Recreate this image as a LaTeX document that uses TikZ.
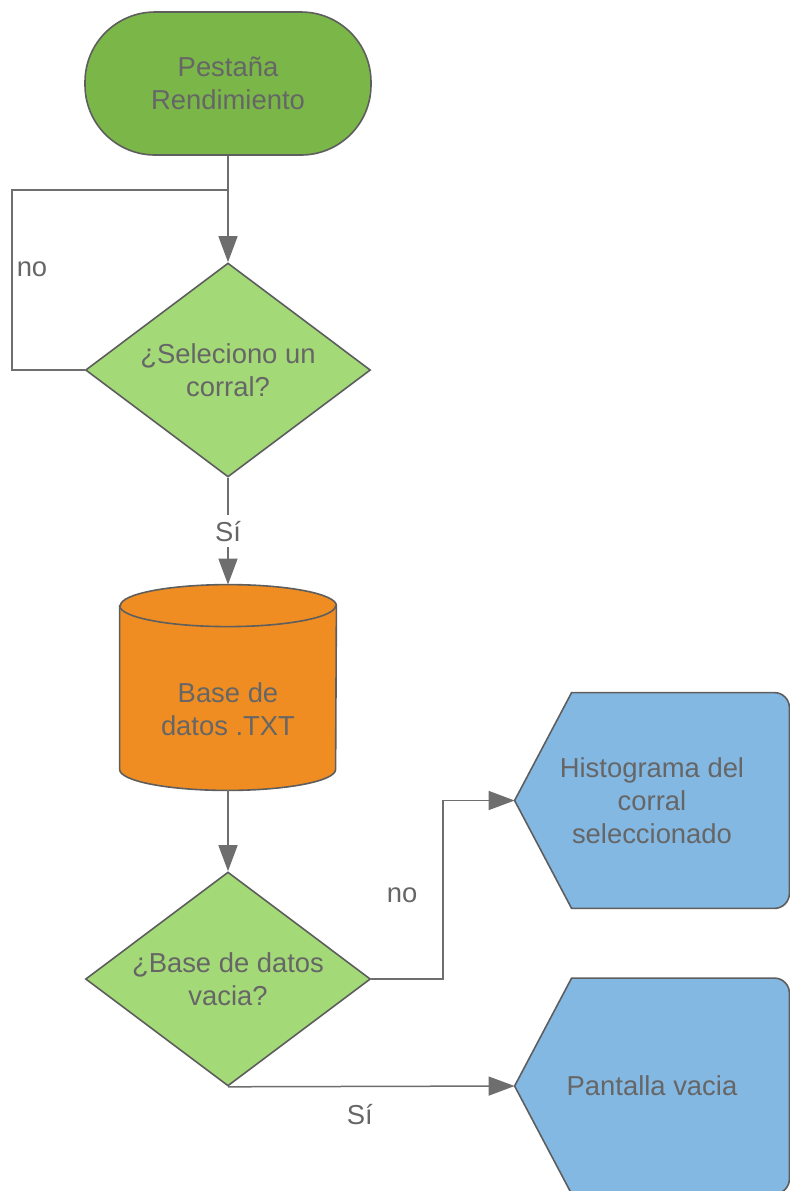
\documentclass[tikz,border=0pt]{standalone}
\usepackage{fontspec}
\setmainfont{Liberation Sans}
\usetikzlibrary{arrows.meta,calc,shapes.geometric}
\definecolor{startgreen}{HTML}{7AB648}
\definecolor{askgreen}{HTML}{A3D977}
\definecolor{dborange}{HTML}{EF8D22}
\definecolor{screenblue}{HTML}{83B8E3}
\definecolor{inkgray}{HTML}{5E5E5E}
\definecolor{textgray}{HTML}{666666}
\definecolor{wiregray}{HTML}{6E6E6E}

\begin{document}
\begin{tikzpicture}[x=0.5pt,y=-0.5pt,>={Triangle[length=13pt,width=9.5pt]},
    font=\fontsize{13.7pt}{16.5pt}\selectfont,
    outline/.style={draw=inkgray,line width=0.8pt},
    terminal/.style={outline,fill=startgreen,rounded corners=35pt,
      minimum width=143pt,minimum height=71.5pt,align=center,text=textgray},
    decision/.style={outline,diamond,fill=askgreen,
      minimum width=142.5pt,minimum height=107pt,inner sep=0pt},
    database/.style={minimum width=108pt,minimum height=102.5pt,inner sep=0pt},
    dbfill/.style={outline,fill=dborange},
    screen/.style={minimum width=137pt,minimum height=107.5pt,inner sep=0pt},
    screenfill/.style={outline,fill=screenblue},
    txt/.style={text=textgray,align=center},
    flow/.style={draw=wiregray,line width=0.75pt},
    arrow/.style={flow,->},
    lbl/.style={text=textgray,inner sep=2pt}]
  \useasboundingbox (0,0) rectangle (790,1191);

  % shapes
  \node[terminal] (start) at (228,83.5) {Pestaña\\Rendimiento};
  \node[decision] (sel) at (228,370) {};
  \node[txt] at (sel) {¿Seleciono un\\corral?};
  \node[database] (db) at (228,687.5) {};
  \draw[dbfill] ([yshift=-10.5pt]db.north west) -- ([yshift=10.5pt]db.south west)
    arc[start angle=180,end angle=360,x radius=54pt,y radius=10.5pt]
    -- ([yshift=-10.5pt]db.north east)
    arc[start angle=0,end angle=180,x radius=54pt,y radius=10.5pt] -- cycle;
  \draw[outline] ([yshift=-10.5pt]db.north west)
    arc[start angle=180,end angle=360,x radius=54pt,y radius=10.5pt];
  \node[txt] at ($(db.center)+(0,22)$) {Base de\\datos .TXT};
  \node[decision] (vacia) at (228,979) {};
  \node[txt] at (vacia) {¿Base de datos\\vacia?};

  % display shapes
  \node[screen] (hist) at (652,800.5) {};
  \draw[screenfill] (hist.west) -- ($(hist.north west)+(57,0)$) [rounded corners=7.5pt]
    -- (hist.north east) -- (hist.south east) [sharp corners]
    -- ($(hist.south west)+(57,0)$) -- cycle;
  \node[txt] at (hist) {Histograma del\\corral\\seleccionado};
  \node[screen] (empty) at (652,1086) {};
  \draw[screenfill] (empty.west) -- ($(empty.north west)+(57,0)$) [rounded corners=7.5pt]
    -- (empty.north east) -- (empty.south east) [sharp corners]
    -- ($(empty.south west)+(57,0)$) -- cycle;
  \node[txt] at (empty) {Pantalla vacia};

  % connectors
  \coordinate (join) at (228,190);
  \coordinate (back) at (12,370);
  \coordinate (turn) at (443,979);
  \draw[arrow] (start) -- (sel);
  \draw[flow] (sel.west) -- (back) |- node[lbl,pos=0.28,anchor=west]{no} (join);
  \draw[arrow] (sel) -- node[lbl,fill=white,inner sep=3pt]{Sí} (db);
  \draw[arrow] (db) -- (vacia);
  \draw[arrow] (vacia.east) -- (turn) |- node[lbl,pos=0.235,left=10.5pt]{no} (hist.west);
  \draw[arrow] (vacia.south) -- node[lbl,pos=0.46,below=6.5pt]{Sí} (empty.west);
\end{tikzpicture}
\end{document}
